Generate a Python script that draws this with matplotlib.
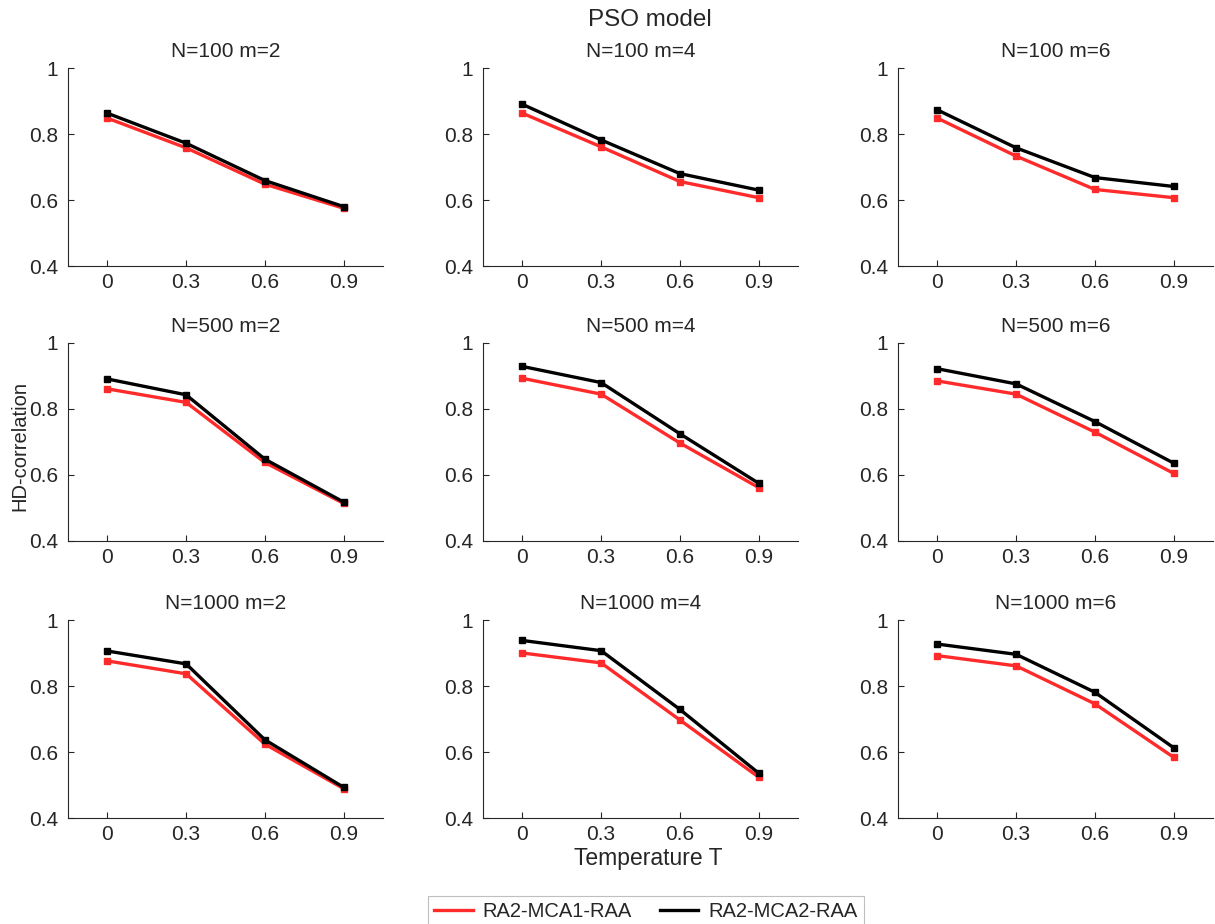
import matplotlib
matplotlib.use("Agg")
import matplotlib.pyplot as plt
from matplotlib.ticker import FuncFormatter
from matplotlib.lines import Line2D

plt.rcParams['font.family'] = ['Liberation Sans', 'DejaVu Sans']

temperatures = [0, 0.3, 0.6, 0.9]
x_ticklabels = ["0", "0.3", "0.6", "0.9"]
y_ticks = [0.4, 0.6, 0.8, 1.0]

titles = ["N=100 m=2", "N=100 m=4", "N=100 m=6",
          "N=500 m=2", "N=500 m=4", "N=500 m=6",
          "N=1000 m=2", "N=1000 m=4", "N=1000 m=6"]

# RA2-MCA1-RAA (red)
mca1_n100_m2 = [0.848, 0.758, 0.648, 0.575]
mca1_n100_m4 = [0.863, 0.761, 0.656, 0.607]
mca1_n100_m6 = [0.848, 0.733, 0.632, 0.607]
mca1_n500_m2 = [0.861, 0.820, 0.638, 0.514]
mca1_n500_m4 = [0.893, 0.845, 0.697, 0.562]
mca1_n500_m6 = [0.885, 0.845, 0.730, 0.605]
mca1_n1000_m2 = [0.876, 0.837, 0.624, 0.489]
mca1_n1000_m4 = [0.900, 0.870, 0.697, 0.524]
mca1_n1000_m6 = [0.892, 0.861, 0.746, 0.584]

# RA2-MCA2-RAA (black)
mca2_n100_m2 = [0.863, 0.772, 0.659, 0.580]
mca2_n100_m4 = [0.890, 0.782, 0.680, 0.630]
mca2_n100_m6 = [0.873, 0.758, 0.668, 0.641]
mca2_n500_m2 = [0.891, 0.843, 0.648, 0.518]
mca2_n500_m4 = [0.929, 0.880, 0.725, 0.575]
mca2_n500_m6 = [0.922, 0.876, 0.762, 0.636]
mca2_n1000_m2 = [0.906, 0.867, 0.637, 0.493]
mca2_n1000_m4 = [0.938, 0.907, 0.729, 0.536]
mca2_n1000_m6 = [0.927, 0.896, 0.781, 0.613]

series_red = [mca1_n100_m2, mca1_n100_m4, mca1_n100_m6,
              mca1_n500_m2, mca1_n500_m4, mca1_n500_m6,
              mca1_n1000_m2, mca1_n1000_m4, mca1_n1000_m6]
series_black = [mca2_n100_m2, mca2_n100_m4, mca2_n100_m6,
                mca2_n500_m2, mca2_n500_m4, mca2_n500_m6,
                mca2_n1000_m2, mca2_n1000_m4, mca2_n1000_m6]

W, H = 1215, 924
fig = plt.figure(figsize=(W / 100, H / 100), dpi=100)

col_left = [68, 483, 898]
row_top = [68, 343, 620]
ax_w, ax_h = 315, 198
axis_col = '#262626'
red = '#FF2A2A'

fs = 15
for i in range(9):
    r, c = divmod(i, 3)
    l = col_left[c] / W
    b = 1 - (row_top[r] + ax_h) / H
    ax = fig.add_axes([l, b, ax_w / W, ax_h / H])
    ax.plot(temperatures, series_red[i], color=red, lw=2.4, marker='s',
            ms=4.5, label='RA2-MCA1-RAA', solid_joinstyle='miter')
    ax.plot(temperatures, series_black[i], color='black', lw=2.4, marker='s',
            ms=5, label='RA2-MCA2-RAA', solid_joinstyle='miter')
    ax.set_xlim(-0.15, 1.05)
    ax.set_ylim(0.4, 1.0)
    ax.set_xticks(temperatures)
    ax.set_xticklabels(x_ticklabels)
    ax.set_yticks(y_ticks)
    ax.yaxis.set_major_formatter(FuncFormatter(lambda v, p: f"{v:g}"))
    for s in ['top', 'right']:
        ax.spines[s].set_visible(False)
    for s in ['left', 'bottom']:
        ax.spines[s].set_color(axis_col)
        ax.spines[s].set_linewidth(0.8)
    ax.tick_params(direction='in', length=4, width=0.8, colors=axis_col,
                   labelsize=fs, labelcolor=axis_col)
    ax.tick_params(axis='y', pad=7)
    ax.tick_params(axis='x', pad=5)
    ax.set_title(titles[i], fontsize=fs, color=axis_col, pad=8)

fig.text(650 / W, 1 - 20 / H, 'PSO model', ha='center', va='center',
         fontsize=17.5, color=axis_col)
fig.text(20 / W, 1 - 446 / H, 'HD-correlation', ha='center', va='center',
         rotation=90, fontsize=14.5, color=axis_col)
fig.text(648 / W, 1 - 858 / H, 'Temperature T', ha='center', va='center',
         fontsize=16.5, color=axis_col)

leg_handles = [Line2D([], [], color=red, lw=2.4), Line2D([], [], color='black', lw=2.4)]
leg = fig.legend(leg_handles, ['RA2-MCA1-RAA', 'RA2-MCA2-RAA'],
                 loc='upper center', bbox_to_anchor=(646 / W, 1 - 886 / H),
                 ncol=2, fontsize=14.5, frameon=True, fancybox=False,
                 edgecolor='#b0b0b0', handlelength=1.9, columnspacing=1.4,
                 borderpad=0.3, handletextpad=0.5)
leg.get_frame().set_linewidth(0.8)
for t in leg.get_texts():
    t.set_color(axis_col)

fig.savefig('out.png', dpi=100)
